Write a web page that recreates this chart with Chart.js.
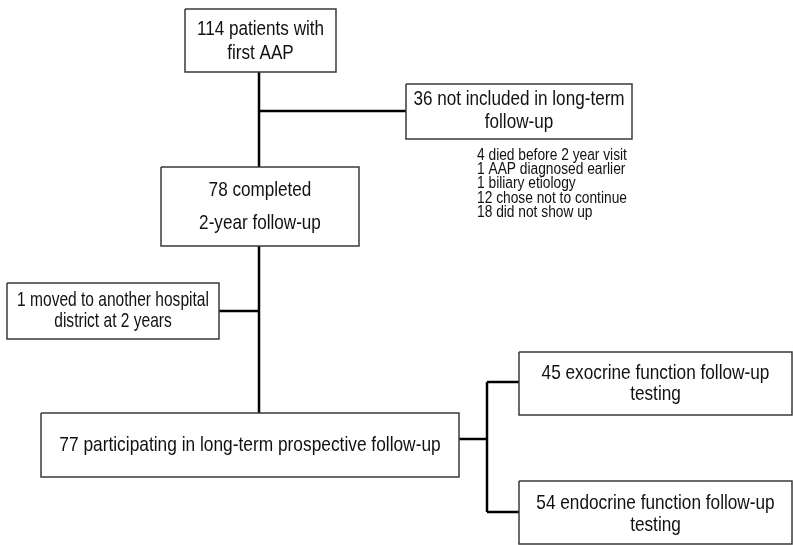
<!DOCTYPE html>
<html lang="en">
<head>
    <meta charset="UTF-8">
    <title>Follow-up flowchart</title>
    <script src="https://cdn.jsdelivr.net/npm/chart.js"></script>
    <style>
        body {
            margin: 0;
            background: #ffffff;
        }
        #wrap {
            width: 793px;
            height: 545px;
        }
    </style>
</head>
<body>
    <div id="wrap">
        <canvas id="flowChart" width="793" height="545"></canvas>
    </div>

    <script>
        // Patient counts at each stage of the study
        const stageNames = ["start", "excluded", "completed", "moved", "participating", "exocrine", "endocrine"];
        const stageCounts = [114, 36, 78, 1, 77, 45, 54];
        const stageText = [
            ["patients with", "first AAP"],
            ["not included in long-term", "follow-up"],
            ["completed", "2-year follow-up"],
            ["moved to another hospital", "district at 2 years"],
            ["participating in long-term prospective follow-up"],
            ["exocrine function follow-up", "testing"],
            ["endocrine function follow-up", "testing"]
        ];

        // Reasons for the 36 not included
        const reasonCounts = [4, 1, 1, 12, 18];
        const reasonText = ["died before 2 year visit", "AAP diagnosed earlier", "biliary etiology", "chose not to continue", "did not show up"];

        // Layout (in axis units, 0..793 by 0..545, y going down); sx = horizontal squeeze of the text
        const boxes = {
            start:         { x0: 185, y0: 9,   x1: 336, y1: 72,  lines: [29, 53],   sx: 0.815 },
            excluded:      { x0: 406, y0: 84,  x1: 632, y1: 139, lines: [99, 122],  sx: 0.815 },
            completed:     { x0: 161, y0: 167, x1: 359, y1: 246, lines: [190, 223], sx: 0.815 },
            moved:         { x0: 7,   y0: 283, x1: 219, y1: 339, lines: [300, 321], sx: 0.74 },
            participating: { x0: 41,  y0: 413, x1: 459, y1: 477, lines: [445],      sx: 0.825 },
            exocrine:      { x0: 519, y0: 352, x1: 792, y1: 415, lines: [373, 394], sx: 0.82 },
            endocrine:     { x0: 519, y0: 481, x1: 792, y1: 544, lines: [503, 525], sx: 0.82 }
        };
        const connectors = [
            [[259, 72], [259, 167]],
            [[259, 246], [259, 413]],
            [[259, 111], [406, 111]],
            [[219, 311], [259, 311]],
            [[459, 439], [487, 439]],
            [[487, 382], [487, 512]],
            [[487, 382], [519, 382]],
            [[487, 512], [519, 512]]
        ];
        const reasonList = { x: 477, y: [156, 170, 184, 199, 213] };

        const datasets = [];
        stageNames.forEach(name => {
            const b = boxes[name];
            datasets.push({
                data: [
                    { x: b.x0, y: b.y0 }, { x: b.x1, y: b.y0 },
                    { x: b.x1, y: b.y1 }, { x: b.x0, y: b.y1 }, { x: b.x0, y: b.y0 }
                ],
                borderColor: "#3a3a3a",
                borderWidth: 1.5
            });
        });
        connectors.forEach(seg => {
            datasets.push({
                data: seg.map(p => ({ x: p[0], y: p[1] })),
                borderColor: "#000000",
                borderWidth: 2.5
            });
        });

        // Draws the box and list texts, placed through the chart scales
        const textPlugin = {
            id: "flowText",
            afterDatasetsDraw(chart) {
                const ctx = chart.ctx;
                const xs = chart.scales.x;
                const ys = chart.scales.y;

                function squeezed(text, px, py, size, sx, align) {
                    ctx.save();
                    ctx.font = size + "px 'Liberation Sans', Arial, sans-serif";
                    ctx.fillStyle = "#111111";
                    ctx.textBaseline = "middle";
                    ctx.textAlign = align;
                    ctx.translate(px, py);
                    ctx.scale(sx, 1);
                    ctx.fillText(text, 0, 0);
                    ctx.restore();
                }

                stageNames.forEach((name, i) => {
                    const b = boxes[name];
                    const cx = xs.getPixelForValue((b.x0 + b.x1) / 2);
                    stageText[i].forEach((line, j) => {
                        const text = j === 0 ? stageCounts[i] + " " + line : line;
                        squeezed(text, cx, ys.getPixelForValue(b.lines[j]), 21, b.sx, "center");
                    });
                });

                reasonText.forEach((line, i) => {
                    squeezed(reasonCounts[i] + " " + line,
                        xs.getPixelForValue(reasonList.x),
                        ys.getPixelForValue(reasonList.y[i]), 16, 0.86, "left");
                });
            }
        };

        new Chart(document.getElementById("flowChart").getContext("2d"), {
            type: "scatter",
            data: { datasets: datasets },
            options: {
                responsive: false,
                animation: false,
                showLine: true,
                elements: { point: { radius: 0, hoverRadius: 0 }, line: { tension: 0 } },
                layout: { padding: 0 },
                plugins: {
                    legend: { display: false },
                    tooltip: { enabled: false }
                },
                scales: {
                    x: { type: "linear", min: 0, max: 793, display: false },
                    y: { type: "linear", min: 0, max: 545, reverse: true, display: false }
                }
            },
            plugins: [textPlugin]
        });
    </script>
</body>
</html>
